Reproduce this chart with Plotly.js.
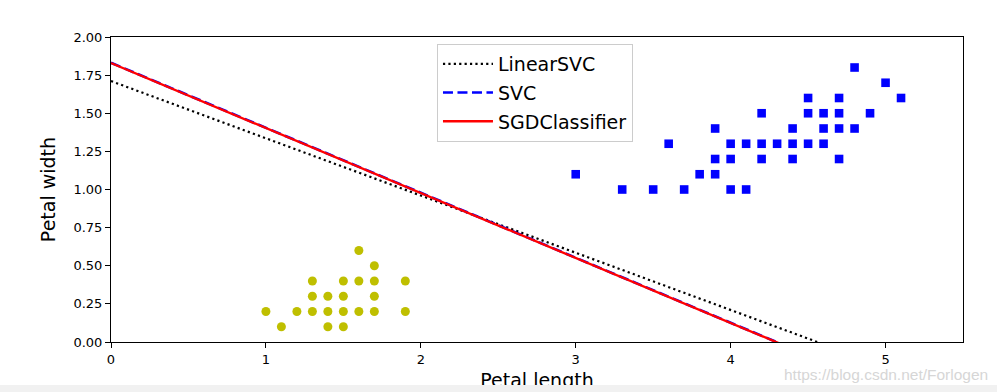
<!DOCTYPE html>
<html>
<head>
<meta charset="utf-8">
<script src="https://cdn.plot.ly/plotly-3.0.1.min.js"></script>
<style>
  html, body { margin: 0; padding: 0; background: #ffffff; }
  #wrap { position: relative; width: 997px; height: 392px; overflow: hidden; }
  #chart { position: absolute; left: 0; top: 0; width: 997px; height: 392px; }
  #bar { position: absolute; left: 0; top: 385px; width: 997px; height: 7px; background: #f1f1f1; z-index: 10; }
</style>
</head>
<body>
<div id="wrap">
  <div id="chart"></div>
  <div id="bar"></div>
</div>
<script>
// Iris setosa (yellow circles)
const setosaLength = [1.0, 1.1, 1.2, 1.3, 1.3, 1.3, 1.4, 1.4, 1.4, 1.5, 1.5, 1.5, 1.5, 1.6, 1.6, 1.6, 1.7, 1.7, 1.7, 1.7, 1.9, 1.9];
const setosaWidth  = [0.2, 0.1, 0.2, 0.4, 0.3, 0.2, 0.3, 0.2, 0.1, 0.4, 0.3, 0.2, 0.1, 0.6, 0.4, 0.2, 0.5, 0.4, 0.3, 0.2, 0.4, 0.2];

// Iris versicolor (blue squares)
const versicolorLength = [3.0, 3.3, 3.5, 3.6, 3.7, 3.8, 3.9, 3.9, 3.9, 4.0, 4.0, 4.0, 4.1, 4.1, 4.2, 4.2, 4.2, 4.3, 4.4, 4.4, 4.4, 4.5, 4.5, 4.5, 4.6, 4.6, 4.6, 4.7, 4.7, 4.7, 4.7, 4.8, 4.8, 4.9, 5.0, 5.1];
const versicolorWidth  = [1.1, 1.0, 1.0, 1.3, 1.0, 1.1, 1.4, 1.2, 1.1, 1.3, 1.2, 1.0, 1.3, 1.0, 1.5, 1.3, 1.2, 1.3, 1.4, 1.3, 1.2, 1.6, 1.5, 1.3, 1.5, 1.4, 1.3, 1.6, 1.5, 1.4, 1.2, 1.8, 1.4, 1.5, 1.7, 1.6];

// Decision boundaries (petal width at the ends of the petal-length span)
const boundaryLength = [0, 5.5];
const linearSvcWidth = [1.711, -0.353];
const svcWidth       = [1.831, -0.513];
const sgdWidth       = [1.829, -0.514];

const seriesNames = ["LinearSVC", "SVC", "SGDClassifier"];
const xTicks = [0, 1, 2, 3, 4, 5];
const yTicks = [0, 0.25, 0.5, 0.75, 1.0, 1.25, 1.5, 1.75, 2.0];

const FONT = "DejaVu Sans, sans-serif";

const traces = [
  {
    x: setosaLength, y: setosaWidth, type: "scatter", mode: "markers",
    marker: { symbol: "circle", size: 9, color: "#bfbf00" },
    showlegend: false, hoverinfo: "skip"
  },
  {
    x: versicolorLength, y: versicolorWidth, type: "scatter", mode: "markers",
    marker: { symbol: "square", size: 8.6, color: "#0000ff" },
    showlegend: false, hoverinfo: "skip"
  },
  {
    x: boundaryLength, y: linearSvcWidth, type: "scatter", mode: "lines",
    name: seriesNames[0], legendgroup: "a",
    line: { color: "#000000", width: 2.2, dash: "2.2px,3.2px" }
  },
  {
    x: boundaryLength, y: svcWidth, type: "scatter", mode: "lines",
    name: seriesNames[1], legendgroup: "b",
    line: { color: "#0000ff", width: 2.6, dash: "10px,4.5px" }
  },
  {
    x: boundaryLength, y: sgdWidth, type: "scatter", mode: "lines",
    name: seriesNames[2], legendgroup: "c",
    line: { color: "#ff0000", width: 2.3 }
  }
];

const layout = {
  width: 997, height: 392,
  margin: { l: 111, r: 34, t: 37, b: 50, pad: 0 },
  paper_bgcolor: "#ffffff", plot_bgcolor: "#ffffff",
  font: { family: FONT, color: "#000000", size: 13 },
  showlegend: true,
  legend: {
    x: 0.3826, y: 0.977, xanchor: "left", yanchor: "top",
    bgcolor: "#ffffff", bordercolor: "#cccccc", borderwidth: 1,
    font: { family: FONT, size: 19, color: "#000000" },
    traceorder: "grouped", tracegroupgap: 1, itemwidth: 50
  },
  xaxis: {
    range: [0, 5.5], tickvals: xTicks, ticktext: xTicks.map(v => String(v)),
    showgrid: false, zeroline: false,
    showline: true, mirror: true, linecolor: "#000000", linewidth: 1,
    ticks: "outside", ticklen: 5, tickwidth: 1, tickcolor: "#000000",
    tickfont: { family: FONT, size: 13, color: "#000000" },
    title: { text: "Petal length", font: { family: FONT, size: 19, color: "#000000" }, standoff: 8 }
  },
  yaxis: {
    range: [0, 2], tickvals: yTicks, ticktext: yTicks.map(v => v.toFixed(2)),
    showgrid: false, zeroline: false,
    showline: true, mirror: true, linecolor: "#000000", linewidth: 1,
    ticks: "outside", ticklen: 5, tickwidth: 1, tickcolor: "#000000",
    tickfont: { family: FONT, size: 13, color: "#000000" },
    title: { text: "Petal width", font: { family: FONT, size: 19, color: "#000000" }, standoff: 12 }
  },
  annotations: [
    {
      text: "https://blog.csdn.net/Forlogen",
      xref: "paper", yref: "paper", x: 1.0317, y: -0.106,
      xanchor: "right", yanchor: "middle", showarrow: false,
      font: { family: "Liberation Sans, Arial, sans-serif", size: 15.5, color: "#d6d6d6" }
    }
  ]
};

Plotly.newPlot("chart", traces, layout, { staticPlot: true, displayModeBar: false });
</script>
</body>
</html>
